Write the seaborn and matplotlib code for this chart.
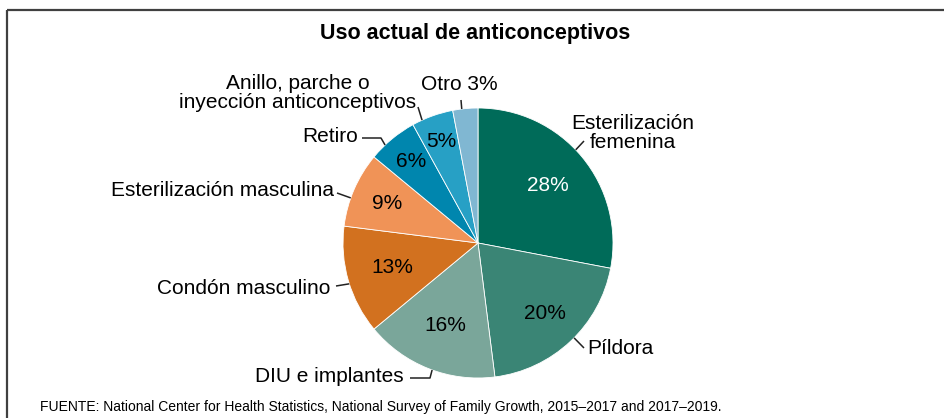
import numpy as np
import matplotlib
matplotlib.use("Agg")
import matplotlib.pyplot as plt
import seaborn as sns

# ── Data ─────────────────────────────────────────────────────────────
methods = [
    "Esterilización\nfemenina",
    "Píldora",
    "DIU e implantes",
    "Condón masculino",
    "Esterilización masculina",
    "Retiro",
    "Anillo, parche o\ninyección anticonceptivos",
    "Otro",
]
shares = [28, 20, 16, 13, 9, 6, 5, 3]
colors = ["#006b59", "#3a8575", "#7aa69a", "#d2711f",
          "#f09357", "#0086ae", "#27a0c5", "#80b7d2"]

title = "Uso actual de anticonceptivos"
source = ("FUENTE: National Center for Health Statistics, National Survey of "
          "Family Growth, 2015–2017 and 2017–2019.")

# ── Layout (pixel coords, y measured from top) ───────────────────────
W, H = 944, 418
cx, cy, R = 478, 243, 135
pct_dist = [0.67, 0.72, 0.66, 0.66, 0.73, 0.78, 0.80, None]
attach = [0.46, 0.47, 0.47, 0.47, 0.38, 0.32, 0.24, 0.36]
# label anchor, alignment, extra leader points (outside the pie)
label_pos = [
    ((633, 133), "center", [(584, 141)]),
    ((587, 349), "left", [(584, 348)]),
    ((404, 377), "right", [(430, 378), (410, 378)]),
    ((330, 288), "right", [(336, 286)]),
    ((334, 190), "right", [(337, 193)]),
    ((358, 137), "right", [(381, 138), (362, 138)]),
    ((298, 93), "center", [(418, 107)]),
    ((459, 85), "center", [(461, 100)]),
]


def Y(y):
    return H - y


sns.set_theme(style="white")
plt.rcParams["font.family"] = ["Liberation Sans", "DejaVu Sans"]
plt.rcParams["text.color"] = "black"

fig = plt.figure(figsize=(W / 100, H / 100), dpi=100)
ax = fig.add_axes([0, 0, 1, 1])

ax.pie(shares, colors=colors, startangle=90, counterclock=False,
       center=(cx, Y(cy)), radius=R,
       wedgeprops=dict(linewidth=0.6, edgecolor="white"))
ax.set_xlim(0, W)
ax.set_ylim(0, H)
ax.set_aspect("equal")
ax.axis("off")

# angle boundaries of each wedge (degrees, clockwise from top)
cum = np.concatenate([[0], np.cumsum(shares)]) / sum(shares) * 360
for i, v in enumerate(shares):
    a0 = 90 - cum[i]
    a1 = 90 - cum[i + 1]
    mid = np.radians((a0 + a1) / 2)
    if pct_dist[i] is not None:
        r = R * pct_dist[i]
        ax.text(cx + r * np.cos(mid), Y(cy) + r * np.sin(mid), f"{v}%",
                ha="center", va="center", fontsize=15,
                color="white" if i == 0 else "black")
    # leader line
    ang = np.radians(a0 + (a1 - a0) * attach[i])
    pts = [(cx + R * np.cos(ang), Y(cy) + R * np.sin(ang))]
    (tx, ty), ha, extra = label_pos[i]
    pts += [(x, Y(y)) for x, y in extra]
    xs, ys = zip(*pts)
    ax.plot(xs, ys, color="#222222", lw=1.1, solid_capstyle="butt")
    text = methods[i] if i != len(shares) - 1 else f"{methods[i]} {v}%"
    ax.text(tx, Y(ty), text, ha=ha, va="center", fontsize=15,
            linespacing=1.0, color="black")

# frame (top + left only)
ax.plot([7, W], [Y(10), Y(10)], color="#404040", lw=1.6,
        solid_capstyle="butt", clip_on=False)
ax.plot([7, 7], [Y(10), 0], color="#404040", lw=1.6,
        solid_capstyle="butt", clip_on=False)

ax.text(W / 2 + 3, Y(33), title, ha="center", va="center",
        fontsize=15.5, fontweight="bold", color="black")
ax.text(40, Y(407), source, ha="left", va="center", fontsize=10,
        color="black")

fig.savefig("out.png", dpi=100)
